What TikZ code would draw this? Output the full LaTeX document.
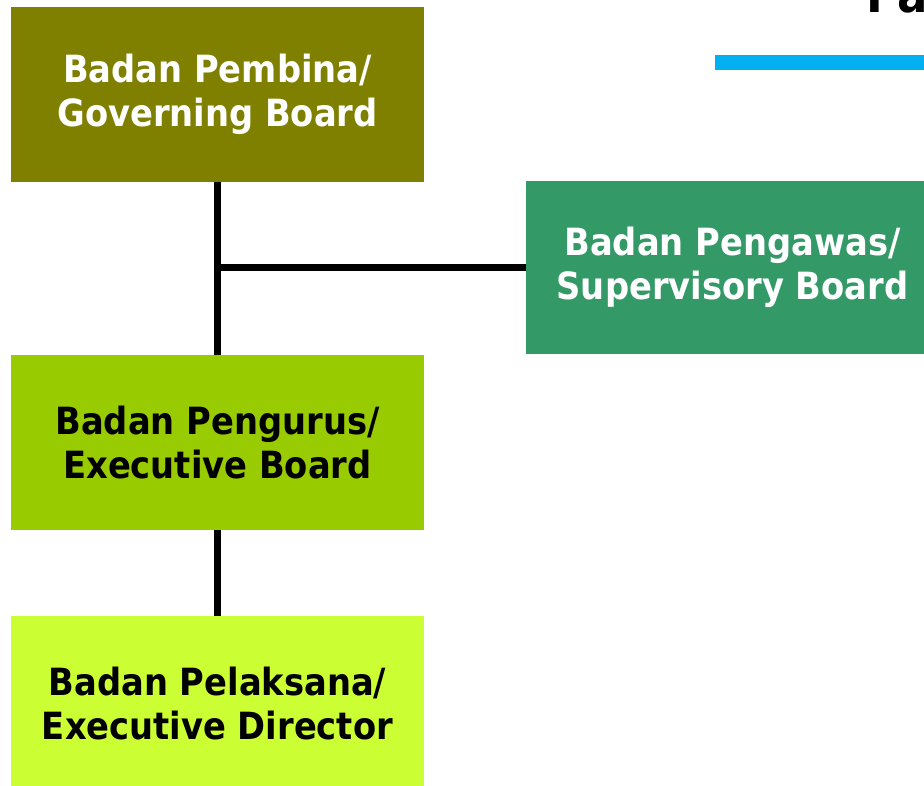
\documentclass[tikz,border=0pt]{standalone}
\usepackage{fontspec}
\setmainfont{DejaVu Sans Condensed}
\usetikzlibrary{positioning}
\definecolor{olivebox}{HTML}{808000}
\definecolor{greenbox}{HTML}{339966}
\definecolor{limebox}{HTML}{99CC00}
\definecolor{lightbox}{HTML}{CCFF33}
\definecolor{titlebar}{HTML}{00B0F0}
\tikzstyle{line} = [draw, line width=6.5pt]
\tikzstyle{block} = [rectangle, inner sep=0pt, align=center, minimum width=413pt, minimum height=175pt, font=\bfseries\fontsize{37.5}{43.5}\selectfont]

\begin{document}
\begin{tikzpicture}[x=1pt, y=-1pt]
        \useasboundingbox (0,0) rectangle (924,786);
        \node[anchor=base west, inner sep=0pt, font=\bfseries\fontsize{50}{60}\selectfont] (title) at (866,13) {Pa};
        \fill[titlebar] (715,55) rectangle (930,70);
        \node[block, fill=olivebox, text=white] (gov) at (217.5,94.5) {Badan Pembina/\\Governing Board};
        \node[block, fill=greenbox, text=white, minimum height=173pt] (sup) at (732.5,267.5) {Badan Pengawas/\\Supervisory Board};
        \node[block, fill=limebox, below of=gov, node distance=348pt] (exec) {Badan Pengurus/\\Executive Board};
        \node[block, fill=lightbox, below of=exec, node distance=261pt] (dir) {Badan Pelaksana/\\Executive Director};
        \coordinate (joint) at (gov.south |- sup.west);
        \path[line] (gov) -- (exec);
        \path[line] (joint) -- (sup);
        \path[line] (exec) -- (dir);
    \end{tikzpicture}
\end{document}
